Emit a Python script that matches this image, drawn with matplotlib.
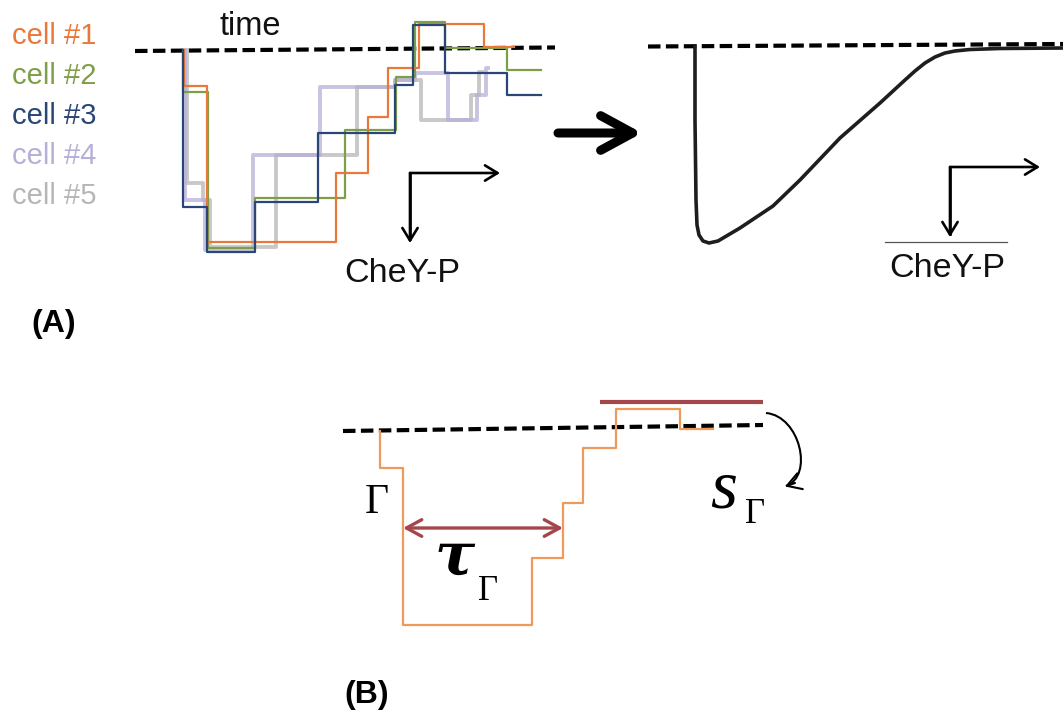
import matplotlib
matplotlib.use("Agg")
import matplotlib.pyplot as plt
from matplotlib.patches import FancyArrowPatch, PathPatch
from matplotlib.path import Path

# ---------------- data (schematic pixel units) ----------------
cell_labels = ["cell #1", "cell #2", "cell #3", "cell #4", "cell #5"]
cell_colors = ["#E9793A", "#7E9F48", "#2A4677", "#B7AFD8", "#B6B6B6"]

# step traces: time breakpoints and CheY-P level (down = higher CheY-P)
cell1_t = [184, 184, 207, 336, 368, 388, 419, 484, 514]
cell1_y = [50, 86, 242, 173, 117, 68, 24, 47, 47]
cell2_t = [183, 183, 208, 255, 345, 396, 415, 445, 507, 541]
cell2_y = [50, 92, 248, 198, 130, 77, 22, 48, 70, 70]
cell3_t = [183, 183, 207, 255, 318, 395, 413, 445, 507, 541]
cell3_y = [50, 207, 252, 202, 133, 85, 25, 73, 95, 95]
cell4_t = [185, 185, 205, 253, 320, 395, 415, 448, 477, 486, 488]
cell4_y = [50, 200, 250, 155, 87, 80, 73, 120, 95, 68, 68]
cell5_t = [187, 187, 203, 210, 276, 357, 395, 421, 471, 479, 482]
cell5_y = [50, 183, 200, 247, 155, 87, 80, 120, 95, 72, 72]

# averaged response curve (right panel)
mean_t = [695, 695, 696, 697, 699, 703, 709, 718, 740, 773, 800, 840, 880, 905, 915,
          925, 935, 945, 955, 970, 1000, 1063]
mean_y = [46, 120, 200, 225, 235, 241, 243, 241, 228, 206, 180, 138, 103, 80, 71,
          63, 57, 53, 51, 49.5, 48.5, 48]

# panel B example trace
ex_t = [380, 380, 403, 532, 563, 583, 616, 680, 713]
ex_y = [431, 468, 625, 558, 503, 448, 409, 429, 429]

# ---------------- figure ----------------
plt.rcParams['font.family'] = ['Liberation Sans', 'DejaVu Sans']
fig = plt.figure(figsize=(10.63, 7.11), dpi=100)
ax = fig.add_axes([0, 0, 1, 1])
ax.set_xlim(0, 1063)
ax.set_ylim(711, 0)
ax.axis("off")

dash_kw = dict(color="black", lw=3.0, dashes=(3.0, 1.3), solid_capstyle="butt")
head_small = "->,head_length=0.9,head_width=0.55"

# ---------- Panel A left ----------
ax.plot([135, 555], [51, 47.5], **dash_kw, zorder=1)
traces = [(cell1_t, cell1_y), (cell2_t, cell2_y), (cell3_t, cell3_y),
          (cell4_t, cell4_y), (cell5_t, cell5_y)]
order = [4, 3, 1, 0, 2]
for i in order:
    t, y = traces[i]
    if i >= 3:
        ax.step(t, y, where="post", color=cell_colors[i], lw=2.8, alpha=0.75, zorder=2)
    else:
        ax.step(t, y, where="post", color=cell_colors[i], lw=1.6, zorder=3)

for i, lab in enumerate(cell_labels):
    ax.text(12, 44 + 40 * i, lab, color=cell_colors[i], fontsize=21,
            ha="left", va="baseline")

ax.text(219, 35, "time", fontsize=23.5, ha="left", va="baseline", color="#111111")

# small axis icon left
ax.plot([410, 410], [173, 240], color="black", lw=1.9, solid_capstyle="butt")
ax.add_patch(FancyArrowPatch((410, 173), (500, 173), arrowstyle=head_small,
                             mutation_scale=10, lw=1.9, color="black", shrinkA=0, shrinkB=0))
ax.add_patch(FancyArrowPatch((410, 173), (410, 243), arrowstyle=head_small,
                             mutation_scale=10, lw=1.9, color="black", shrinkA=0, shrinkB=0))
ax.text(344, 282, "CheY-P", fontsize=24.5, ha="left", va="baseline", color="#111111")

# big arrow
ax.add_patch(FancyArrowPatch((558, 133), (642, 133), arrowstyle="->,head_length=2.3,head_width=1.25",
                             mutation_scale=10, lw=6.5, color="black", shrinkA=0, shrinkB=0,
                             capstyle="round", joinstyle="round"))

# ---------- Panel A right ----------
ax.plot([648, 1063], [46.5, 44], **dash_kw, zorder=1)
ax.plot(mean_t, mean_y, color="#1E1E1E", lw=2.6, solid_joinstyle="round", zorder=2)

ax.plot([950, 950], [167, 234], color="black", lw=1.9)
ax.add_patch(FancyArrowPatch((950, 167), (1040, 167), arrowstyle=head_small,
                             mutation_scale=10, lw=1.9, color="black", shrinkA=0, shrinkB=0))
ax.add_patch(FancyArrowPatch((950, 167), (950, 237), arrowstyle=head_small,
                             mutation_scale=10, lw=1.9, color="black", shrinkA=0, shrinkB=0))
ax.plot([885, 1007], [242, 242], color="#555555", lw=0.9)
ax.text(889, 277, "CheY-P", fontsize=24.5, ha="left", va="baseline", color="#111111")

ax.text(31, 332, "(A)", fontsize=23, fontweight="bold", ha="left", va="baseline")

# ---------- Panel B ----------
ax.plot([343, 763], [431, 425], **dash_kw, zorder=1)
ax.step(ex_t, ex_y, where="post", color="#EE9A5B", lw=1.6, zorder=2)
ax.plot([600, 763], [402, 402], color="#A4474C", lw=3.0, solid_capstyle="butt", zorder=3)
ax.add_patch(FancyArrowPatch((403, 528), (563, 528), arrowstyle="<->,head_length=1.1,head_width=0.6",
                             mutation_scale=10, lw=2.4, color="#A4474C", shrinkA=0, shrinkB=0))
curve = Path([(766, 413), (800, 416), (814, 476), (786, 486)],
             [Path.MOVETO, Path.CURVE4, Path.CURVE4, Path.CURVE4])
ax.add_patch(PathPatch(curve, facecolor="none", edgecolor="black", lw=1.5))
ax.add_patch(FancyArrowPatch((795, 483), (785, 486.5), arrowstyle="->,head_length=1.0,head_width=0.6",
                             mutation_scale=10, lw=1.5, color="black", shrinkA=0, shrinkB=0))

serif = ["Liberation Serif", "DejaVu Serif"]
ax.text(365, 513, "Γ", fontsize=30, family=serif, ha="left", va="baseline")
ax.text(435, 575, "τ", fontsize=43, family=["DejaVu Serif"], style="italic", fontweight="bold",
        ha="left", va="baseline")
ax.text(478, 600, "Γ", fontsize=25, family=serif, ha="left", va="baseline")
ax.text(710, 508, "s", fontsize=50, family=serif, style="italic", ha="left", va="baseline")
ax.text(745, 523, "Γ", fontsize=25, family=serif, ha="left", va="baseline")

ax.text(344, 703, "(B)", fontsize=23, fontweight="bold", ha="left", va="baseline")

fig.savefig("out.png", dpi=100)
